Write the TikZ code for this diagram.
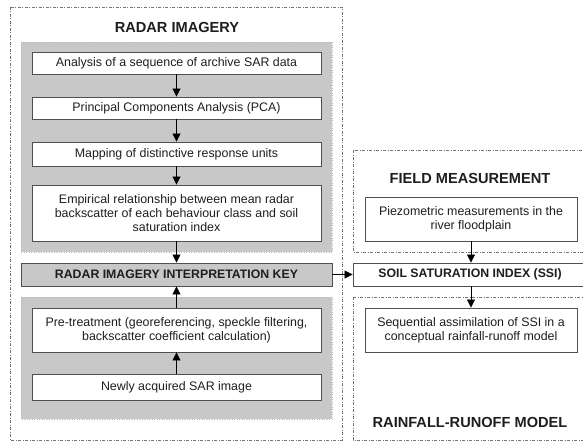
\documentclass[tikz,border=0pt]{standalone}
\usepackage{fontspec}
\setmainfont{Liberation Sans}
\usetikzlibrary{arrows.meta}
\definecolor{panelgray}{RGB}{200,200,200}
\definecolor{edgegray}{RGB}{80,80,80}
\definecolor{txt}{RGB}{30,30,30}
\tikzset{
  zone/.style={draw=edgegray!80, line width=0.6pt, dash pattern=on 3pt off 1.5pt on 1pt off 1.5pt},
  panel/.style={fill=panelgray, draw=panelgray!80!gray, line width=0.5pt, dotted},
  stepbox/.style={draw=edgegray, fill=white, line width=0.9pt, text=txt, align=center, inner sep=0pt,
    font=\fontsize{12.4}{13.6}\selectfont},
  keybox/.style={draw=edgegray, fill=panelgray, line width=0.9pt, text=txt, align=center, inner sep=0pt,
    font=\fontsize{12.3}{14}\selectfont\bfseries},
  ttl/.style={text=txt, font=\fontsize{14.6}{16}\selectfont\bfseries},
  arr/.style={-{Triangle[length=8pt,width=8pt]}, line width=0.8pt, draw=black}
}
\begin{document}
\begin{tikzpicture}[x=1pt,y=-1pt]
\useasboundingbox (0,0) rectangle (583,441);
\clip (0,0) rectangle (583,441);
% zones
\draw[zone] (10,7) rectangle (342,440);
\draw[zone] (353,150) rectangle (600,252);
\draw[zone] (353,297) rectangle (600,440);
% panels
\draw[panel] (21,42) rectangle (332,252);
\draw[panel] (21,297) rectangle (332,419);
% titles
\node[ttl] (t1) at (177,27) {RADAR IMAGERY};
\node[ttl] (t2) at (470,178) {FIELD MEASUREMENT};
\node[ttl] (t3) at (470,422) {RAINFALL-RUNOFF MODEL};
% left boxes
\node[stepbox, minimum width=289pt, minimum height=22pt] (b1) at (176.5,63) {Analysis of a sequence of archive SAR data};
\node[stepbox, minimum width=289pt, minimum height=22pt] (b2) at (176.5,108) {Principal Components Analysis (PCA)};
\node[stepbox, minimum width=289pt, minimum height=24pt] (b3) at (176.5,154) {Mapping of distinctive response units};
\node[stepbox, minimum width=289pt, minimum height=56pt] (b4) at (176.5,213) {Empirical relationship between mean radar\\backscatter of each behaviour class and soil\\saturation index};
\node[keybox, minimum width=311pt, minimum height=23pt] (key) at (176.5,274.5) {RADAR IMAGERY INTERPRETATION KEY};
\node[stepbox, minimum width=289pt, minimum height=44pt] (pre) at (176.5,330) {Pre-treatment (georeferencing, speckle filtering,\\backscatter coefficient calculation)};
\node[stepbox, minimum width=289pt, minimum height=26pt] (new) at (176.5,387) {Newly acquired SAR image};
% right boxes
\node[stepbox, minimum width=212pt, minimum height=44pt] (piezo) at (471,219) {Piezometric measurements in the\\river floodplain};
\node[stepbox, minimum width=234pt, minimum height=23pt, font=\fontsize{12.3}{14}\selectfont\bfseries] (ssi) at (470,274.5) {SOIL SATURATION INDEX (SSI)};
\node[stepbox, minimum width=212pt, minimum height=44pt] (seq) at (471,330) {Sequential assimilation of SSI in a\\conceptual rainfall-runoff model};
% arrows
\draw[arr] (b1) -- (b2);
\draw[arr] (b2) -- (b3);
\draw[arr] (b3) -- (b4);
\draw[arr] (b4) -- (key);
\draw[arr] (pre) -- (key);
\draw[arr] (new) -- (pre);
\draw[arr] (key.east) -- (ssi.west);
\draw[arr] (piezo.south) -- (piezo.south|-ssi.north);
\draw[arr] (ssi.south-|seq.north) -- (seq.north);
\end{tikzpicture}
\end{document}
